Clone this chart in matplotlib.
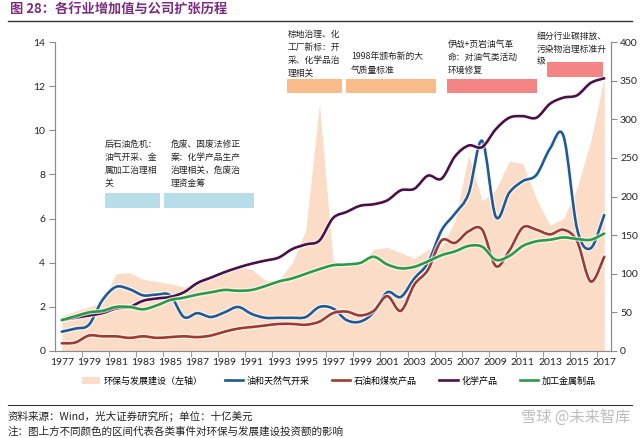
import numpy as np
import matplotlib.pyplot as plt
from matplotlib.path import Path
from matplotlib.patches import PathPatch, Rectangle, Patch
from matplotlib.lines import Line2D
import matplotlib.patheffects as pe

plt.rcParams['font.family'] = ['Noto Sans CJK SC', 'DejaVu Sans']

# 数据
years = list(range(1977, 2018))

# 环保与发展建设（左轴）
env_invest = [1.6, 1.8, 2.0, 2.2, 3.5, 3.55, 3.25, 3.15, 3.05, 2.9,
              3.1, 3.3, 3.7, 3.8, 3.7, 3.2, 3.2, 4.0, 5.5, 11.2,
              4.1, 3.9, 3.95, 4.6, 4.7, 4.45, 4.2, 4.6, 4.7, 5.9,
              8.9, 6.8, 7.3, 8.6, 8.5, 6.9, 5.7, 6.0, 7.4, 9.5, 12.4]

# 右轴（十亿美元）
oil_gas = [25, 29, 34, 66, 83, 80, 72, 73, 72, 44,
           49, 44, 50, 57, 48, 43, 43, 43, 44, 57,
           55, 40, 38, 50, 76, 70, 94, 114, 156, 178,
           204, 272, 174, 205, 220, 228, 262, 278, 158, 133, 176]
petro_coal = [10, 11, 20, 19, 19, 17, 19, 17, 18, 19,
              18, 20, 25, 29, 31, 33, 35, 35, 34, 38,
              49, 51, 46, 52, 71, 52, 86, 105, 143, 140,
              155, 157, 110, 130, 160, 157, 151, 157, 142, 90, 122]
chemicals = [40, 43, 46, 49, 55, 57, 65, 68, 70, 76,
             88, 95, 102, 108, 113, 117, 121, 132, 138, 143,
             172, 180, 188, 190, 195, 208, 210, 227, 223, 252,
             266, 264, 287, 302, 304, 302, 320, 328, 331, 347, 353]
metal = [40, 45, 50, 52, 57, 57, 54, 59, 66, 69,
         73, 76, 79, 78, 79, 84, 90, 94, 100, 106,
         111, 112, 114, 122, 112, 107, 109, 116, 124, 129,
         136, 135, 118, 123, 136, 142, 144, 147, 145, 144, 152]

series_names = ['油和天然气开采', '石油和煤炭产品', '化学产品', '加工金属制品']
series_colors = ['#1f5a96', '#9e3a2f', '#4a1048', '#2b9a48']

# 事件区间（年份起止，左轴高度）
event_spans = [(1980.2, 1984.25), (1984.55, 1991.15), (1993.6, 1997.65),
               (1997.95, 2004.6), (2005.4, 2012.05), (2012.8, 2016.9)]
event_levels = [(6.48, 7.16), (6.48, 7.16), (11.68, 12.31),
                (11.68, 12.31), (11.68, 12.31), (12.43, 13.08)]
event_colors = ['#b7dde8', '#b7dde8', '#f8bc8c', '#f8bc8c', '#f38585', '#f38585']
event_texts = ['后石油危机：\n油气开采、金\n属加工治理相\n关',
               '危废、固废法修正\n案：化学产品生产\n治理相关，危废治\n理资金筹',
               '棕地治理、化\n工厂新标：开\n采、化学品治\n理相关',
               '1998年颁布新的大\n气质量标准',
               '伊战+页岩油气革\n命：对油气类活动\n环境修复',
               '细分行业碳排放、\n污染物治理标准升\n级']
event_text_pos = [(105, 140), (171, 140), (288, 30), (351, 53), (448, 40), (537, 32)]


def smooth_path(x, y):
    # 类似 Excel 平滑线：Catmull-Rom 转 Bezier
    n = len(x)
    verts = [(x[0], y[0])]
    codes = [Path.MOVETO]
    for i in range(n - 1):
        xa, ya = (x[i - 1], y[i - 1]) if i > 0 else (x[i], y[i])
        xb, yb = (x[i + 2], y[i + 2]) if i + 2 < n else (x[i + 1], y[i + 1])
        c1 = (x[i] + (x[i + 1] - xa) / 6, y[i] + (y[i + 1] - ya) / 6)
        c2 = (x[i + 1] - (xb - x[i]) / 6, y[i + 1] - (yb - y[i]) / 6)
        verts += [c1, c2, (x[i + 1], y[i + 1])]
        codes += [Path.CURVE4] * 3
    return Path(verts, codes)


fig = plt.figure(figsize=(6.4, 4.38), dpi=100)
ax = fig.add_axes([55 / 640, 1 - 351 / 438, 556 / 640, 309 / 438])
ax2 = ax.twinx()

area_color = '#fbdcc6'
ax.fill_between(years, 0, env_invest, color=area_color, lw=0)
ax.set_ylim(0, 14)
ax.set_yticks(np.arange(0, 15, 2))
ax.set_xlim(1976.5, 2017.5)
ax.set_xticks(years[::2])
ax.set_xticks(np.arange(1978.5, 2017, 2), minor=True)
ax.tick_params(axis='x', which='major', length=0, pad=5)
ax.tick_params(axis='x', which='minor', length=4, color='#8c8c8c', direction='out')

ax2.set_ylim(0, 400)
ax2.set_yticks(np.arange(0, 401, 50))

for name, vals, col in zip(series_names, [oil_gas, petro_coal, chemicals, metal], series_colors):
    pp = PathPatch(smooth_path(years, vals), fill=False, edgecolor=col, lw=1.9,
                   capstyle='round', joinstyle='round')
    pp.set_path_effects([pe.Stroke(linewidth=3.6, foreground='white', alpha=0.7), pe.Normal()])
    ax2.add_patch(pp)

for a in (ax, ax2):
    a.spines['top'].set_visible(False)
    for s in ('left', 'right', 'bottom'):
        a.spines[s].set_color('#8c8c8c')
        a.spines[s].set_linewidth(0.8)
    a.tick_params(axis='y', length=4, color='#8c8c8c', labelsize=7.5, labelcolor='#222222')
ax.tick_params(axis='x', labelsize=7.5, labelcolor='#222222')
ax.tick_params(axis='y', pad=3)
ax2.tick_params(axis='y', pad=2.5)
for lbl in ax.get_xticklabels() + ax.get_yticklabels() + ax2.get_yticklabels():
    lbl.set_family(['Lato', 'DejaVu Sans'])

# 事件框
for (x0, x1), (y0, y1), col in zip(event_spans, event_levels, event_colors):
    ax2.add_patch(Rectangle((x0, y0), x1 - x0, y1 - y0, transform=ax.transData,
                            facecolor=col, edgecolor='none', clip_on=False, zorder=5))
for txt, (px, py) in zip(event_texts, event_text_pos):
    fig.text(px / 640, 1 - py / 438, txt, fontsize=6.3, va='top', ha='left',
             linespacing=1.55, color='#222222')

# 图例
handles = [Patch(facecolor=area_color, edgecolor='none')]
handles += [Line2D([], [], color=c, lw=1.9) for c in series_colors]
labels = ['环保与发展建设（左轴）'] + series_names
fig.legend(handles, labels, loc='center', bbox_to_anchor=(0.529, 1 - 381 / 438), ncol=5,
           frameon=False, fontsize=6.5, handlelength=2.0, handleheight=0.9,
           columnspacing=2.5, handletextpad=0.4)

# 标题和脚注
fig.text(10 / 640, 1 - 10 / 438, '图 28：各行业增加值与公司扩张历程', fontsize=9.5,
         fontweight='bold', color='#7b2d82', va='center', ha='left')
fig.add_artist(Line2D([8 / 640, 632 / 640], [1 - 21 / 438, 1 - 21 / 438],
                      color='#333333', lw=1.0))
fig.add_artist(Line2D([8 / 640, 632 / 640], [1 - 405 / 438, 1 - 405 / 438],
                      color='#333333', lw=0.8))
fig.text(8 / 640, 1 - 416 / 438, '资料来源：Wind，光大证券研究所；单位：十亿美元',
         fontsize=7.6, va='center', ha='left', color='#222222')
fig.text(8 / 640, 1 - 432 / 438, '注：图上方不同颜色的区间代表各类事件对环保与发展建设投资额的影响',
         fontsize=7.6, va='center', ha='left', color='#222222')
fig.text(630 / 640, 1 - 417 / 438, '雪球 @未来智库', fontsize=11, va='center', ha='right',
         color='#bdbdbd')

fig.savefig('out.png', dpi=100)
